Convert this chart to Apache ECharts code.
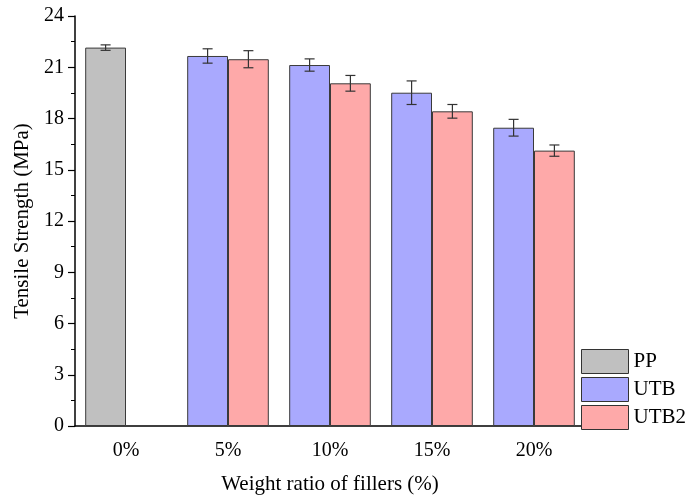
<!DOCTYPE html>
<html>
<head>
<meta charset="utf-8">
<script src="https://cdn.jsdelivr.net/npm/echarts@6/dist/echarts.min.js"></script>
<style>html,body{margin:0;padding:0;background:#fff}#c{width:690px;height:501px}</style>
</head>
<body>
<div id="c"></div>
<script>
var categories = ['0%', '5%', '10%', '15%', '20%'];
var ppValues   = [22.15, '-', '-', '-', '-'];
var ppErrors   = [0.16, null, null, null, null];
var utbValues  = ['-', 21.66, 21.13, 19.51, 17.46];
var utbErrors  = [null, 0.42, 0.36, 0.69, 0.49];
var utb2Values = ['-', 21.47, 20.06, 18.42, 16.12];
var utb2Errors = [null, 0.50, 0.46, 0.40, 0.33];
var yTicks = [0, 3, 6, 9, 12, 15, 18, 21, 24];

var FONT = '"Liberation Serif", "Times New Roman", serif';

function errData(vals, errs, slot) {
  var out = [];
  for (var i = 0; i < vals.length; i++) {
    if (errs[i] == null || vals[i] === '-') continue;
    out.push([i, vals[i] - errs[i], vals[i] + errs[i], slot]);
  }
  return out;
}
var errorPoints = []
  .concat(errData(ppValues, ppErrors, -1))
  .concat(errData(utbValues, utbErrors, -1))
  .concat(errData(utb2Values, utb2Errors, 1));

var chart = echarts.init(document.getElementById('c'), null, {renderer: 'canvas'});
var barStyleBase = {borderColor: '#3a3a3a', borderWidth: 1};

chart.setOption({
  animation: false,
  backgroundColor: '#fff',
  grid: {left: 75, right: 105, top: 16, bottom: 75, containLabel: false},
  legend: {
    orient: 'vertical',
    left: 581, top: 349,
    padding: 0,
    itemWidth: 47, itemHeight: 24, itemGap: 3,
    icon: 'rect',
    data: ['PP', 'UTB', 'UTB2'],
    itemStyle: {borderColor: '#333', borderWidth: 1},
    textStyle: {fontFamily: FONT, fontSize: 21, color: '#000'}
  },
  xAxis: {
    type: 'category',
    data: categories,
    name: 'Weight ratio of fillers (%)',
    nameLocation: 'middle',
    nameGap: 48,
    nameTextStyle: {fontFamily: FONT, fontSize: 21, color: '#000'},
    axisLine: {lineStyle: {color: '#000', width: 1.5}},
    axisTick: {alignWithLabel: true, length: 7, lineStyle: {color: '#000', width: 1.2}},
    axisLabel: {fontFamily: FONT, fontSize: 20, color: '#000', margin: 15}
  },
  yAxis: {
    type: 'value',
    min: 0, max: 24, interval: 3,
    name: 'Tensile Strength (MPa)',
    nameLocation: 'middle',
    nameGap: 41,
    nameTextStyle: {fontFamily: FONT, fontSize: 21, color: '#000'},
    axisLine: {show: true, lineStyle: {color: '#000', width: 1.5}},
    axisTick: {show: true, length: 7, lineStyle: {color: '#000', width: 1.2}},
    minorTick: {show: true, splitNumber: 2, length: 4, lineStyle: {color: '#000', width: 1}},
    splitLine: {show: false},
    axisLabel: {fontFamily: FONT, fontSize: 20, color: '#000', margin: 11,
      formatter: function (v) { return yTicks.indexOf(v) >= 0 ? String(v) : ''; }}
  },
  series: [
    {name: 'PP', type: 'bar', stack: 'a', data: ppValues, barWidth: '40%', barGap: '0%',
     itemStyle: Object.assign({color: '#c0c0c0'}, barStyleBase)},
    {name: 'UTB', type: 'bar', stack: 'a', data: utbValues, barWidth: '40%', barGap: '0%',
     itemStyle: Object.assign({color: '#a9a9fe'}, barStyleBase)},
    {name: 'UTB2', type: 'bar', stack: 'b', data: utb2Values, barWidth: '40%', barGap: '0%',
     itemStyle: Object.assign({color: '#fea9a9'}, barStyleBase)},
    {
      name: 'err', type: 'custom', z: 10,
      data: errorPoints,
      encode: {x: 0, y: [1, 2]},
      renderItem: function (params, api) {
        var idx = api.value(0);
        var lo = api.coord([idx, api.value(1)]);
        var hi = api.coord([idx, api.value(2)]);
        var band = api.size([1, 0])[0];
        var x = lo[0] + api.value(3) * band * 0.2;
        var cap = 5;
        var st = {stroke: '#333', lineWidth: 1.2, fill: null};
        return {
          type: 'group',
          children: [
            {type: 'line', shape: {x1: x, y1: lo[1], x2: x, y2: hi[1]}, style: st},
            {type: 'line', shape: {x1: x - cap, y1: lo[1], x2: x + cap, y2: lo[1]}, style: st},
            {type: 'line', shape: {x1: x - cap, y1: hi[1], x2: x + cap, y2: hi[1]}, style: st}
          ]
        };
      }
    }
  ]
});
</script>
</body>
</html>
